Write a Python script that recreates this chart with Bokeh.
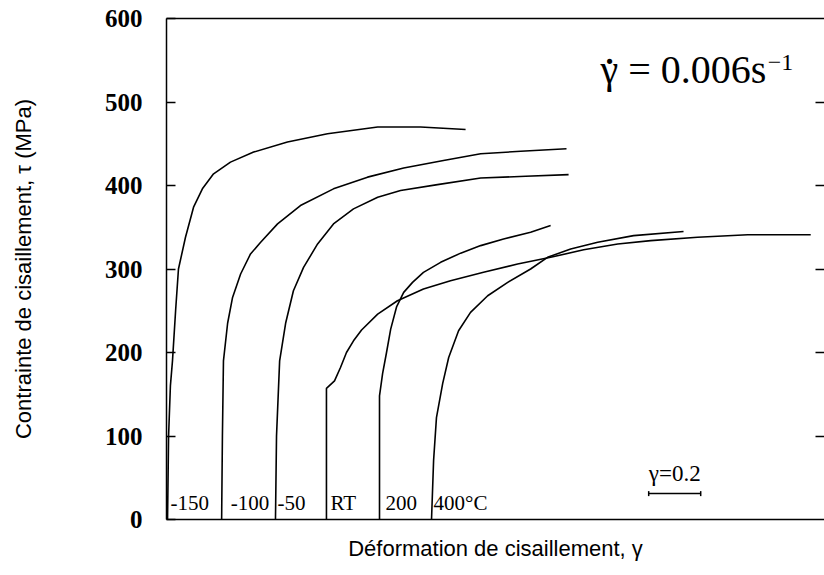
from bokeh.plotting import figure
from bokeh.models import LinearAxis, FixedTicker, Range1d, Label, ColumnDataSource
from bokeh.core.properties import value
from bokeh.embed import file_html
from bokeh.resources import INLINE

# ---------------- data (shear strain gamma, shear stress tau in MPa) ----------------
gamma_m150 = [0.004, 0.008, 0.015, 0.023, 0.035, 0.046, 0.073, 0.104, 0.138, 0.181, 0.246, 0.335, 0.465, 0.619, 0.812, 0.977, 1.150]
tau_m150 = [0, 100, 160, 190, 250, 300, 338, 374, 396, 414, 428, 440, 452, 462, 470, 470, 467]

gamma_m100 = [0.212, 0.215, 0.219, 0.235, 0.254, 0.285, 0.323, 0.362, 0.427, 0.515, 0.642, 0.773, 0.912, 1.065, 1.208, 1.362, 1.538]
tau_m100 = [0, 100, 190, 235, 266, 294, 318, 332, 354, 376, 396, 410, 421, 430, 438, 441, 444]

gamma_m50 = [0.419, 0.423, 0.435, 0.458, 0.488, 0.527, 0.581, 0.642, 0.719, 0.812, 0.900, 1.042, 1.208, 1.381, 1.546]
tau_m50 = [0, 100, 190, 235, 274, 302, 330, 354, 372, 386, 394, 401, 409, 411, 413]

gamma_rt = [0.615, 0.615, 0.646, 0.669, 0.692, 0.719, 0.750, 0.812, 0.888, 0.988, 1.092, 1.219, 1.350, 1.477, 1.604, 1.735, 1.862, 2.042, 2.235, 2.477]
tau_rt = [0, 157, 166, 182, 200, 214, 227, 246, 262, 276, 286, 296, 306, 314, 323, 330, 334, 338, 341, 341]

gamma_200 = [0.819, 0.819, 0.831, 0.846, 0.862, 0.885, 0.912, 0.946, 0.988, 1.054, 1.131, 1.208, 1.296, 1.400, 1.477]
tau_200 = [0, 148, 175, 200, 228, 255, 272, 284, 296, 308, 319, 328, 336, 344, 352]

gamma_400 = [1.019, 1.027, 1.038, 1.062, 1.085, 1.123, 1.169, 1.235, 1.312, 1.400, 1.465, 1.554, 1.658, 1.796, 1.988]
tau_400 = [0, 71, 122, 163, 194, 226, 248, 268, 284, 300, 314, 324, 332, 340, 345]

curve_labels = ["-150", "-100", "-50", "RT", "200", "400°C"]
y_ticks = [0, 100, 200, 300, 400, 500, 600]
scale_bar_gamma = 0.2
rate_text = "γ = 0.006s"
rate_exp = "−1"
x_title = "Déformation de cisaillement, γ"
y_title = "Contrainte de cisaillement, τ (MPa)"

# ---------------- figure ----------------
p = figure(width=824, height=567, x_range=Range1d(0, 2.53), y_range=Range1d(0, 600),
           output_backend="svg", toolbar_location=None,
           x_axis_location=None, y_axis_location=None,
           min_border_left=166, min_border_right=0, min_border_top=18, min_border_bottom=48)
p.outline_line_color = None
p.background_fill_color = "white"
p.border_fill_color = "white"
for g in p.grid:
    g.visible = False

serif = "Liberation Serif"
sans = "Liberation Sans"

left = LinearAxis(ticker=FixedTicker(ticks=y_ticks), axis_label=y_title)
left.major_tick_in = 9
left.major_tick_out = 0
left.minor_tick_line_color = None
left.axis_line_width = 1.5
left.major_tick_line_width = 1.5
left.major_label_text_font = serif
left.major_label_text_font_size = "25px"
left.major_label_text_font_style = "bold"
left.major_label_text_color = "black"
left.major_label_standoff = 24
left.axis_label_text_font = sans
left.axis_label_text_font_size = "22px"
left.axis_label_text_font_style = "normal"
left.axis_label_text_color = "black"
left.axis_label_standoff = 66
p.add_layout(left, "left")

right = LinearAxis(ticker=FixedTicker(ticks=y_ticks[1:-1]))
right.major_label_overrides = {t: "" for t in y_ticks}
right.major_label_text_font_size = "0px"
right.major_label_standoff = 0
right.major_tick_in = 9
right.major_tick_out = 0
right.minor_tick_line_color = None
right.major_tick_line_width = 1.5
right.axis_line_color = None
p.add_layout(right, "right")

bottom = LinearAxis(ticker=FixedTicker(ticks=[]), axis_label=x_title)
bottom.axis_line_width = 1.5
bottom.major_label_standoff = 0
bottom.major_tick_out = 0
bottom.minor_tick_line_color = None
bottom.axis_label_text_font = sans
bottom.axis_label_text_font_size = "22px"
bottom.axis_label_text_font_style = "normal"
bottom.axis_label_text_color = "black"
bottom.axis_label_standoff = 16
p.add_layout(bottom, "below")

top = LinearAxis(ticker=FixedTicker(ticks=[]))
top.axis_line_width = 1.5
top.major_label_standoff = 0
top.major_tick_out = 0
top.minor_tick_line_color = None
p.add_layout(top, "above")

# ---------------- curves ----------------
curves = [(gamma_m150, tau_m150), (gamma_m100, tau_m100), (gamma_m50, tau_m50),
          (gamma_rt, tau_rt), (gamma_200, tau_200), (gamma_400, tau_400)]
for gx, ty in curves:
    p.line(gx, ty, line_color="black", line_width=1.6)

# curve labels at the foot of each curve
label_src = ColumnDataSource(dict(
    x=[c[0][0] for c in curves],
    y=[20] * len(curves),
    text=curve_labels,
    dx=[3, 9, 2, 4, 6, 2],
))
p.text(x="x", y="y", text="text", x_offset="dx", source=label_src,
       text_font=value(serif), text_font_size="21px", text_color="black",
       text_baseline="middle", text_align="left")

# scale bar gamma = 0.2
bar_x0 = 1.854
bar_y = 31
p.segment(x0=[bar_x0], y0=[bar_y], x1=[bar_x0 + scale_bar_gamma], y1=[bar_y],
          line_color="black", line_width=1.5)
p.segment(x0=[bar_x0, bar_x0 + scale_bar_gamma], y0=[bar_y - 3, bar_y - 3],
          x1=[bar_x0, bar_x0 + scale_bar_gamma], y1=[bar_y + 3, bar_y + 3],
          line_color="black", line_width=1.5)
p.add_layout(Label(x=bar_x0 + scale_bar_gamma / 2, y=55, text="γ=0.2",
                   text_font=serif, text_font_size="23px", text_color="black",
                   text_align="center", text_baseline="middle"))

# strain rate annotation (gamma with a dot above)
p.add_layout(Label(x=1.669, y=539, text=rate_text, text_font=serif,
                   text_font_size="40px", text_color="black",
                   text_align="left", text_baseline="alphabetic"))
p.add_layout(Label(x=1.669, y=549, x_offset=9, text="·", text_font=serif,
                   text_font_size="44px", text_color="black",
                   text_align="center", text_baseline="middle"))
p.add_layout(Label(x=2.312, y=547, text=rate_exp, text_font=serif,
                   text_font_size="24px", text_color="black",
                   text_align="left", text_baseline="alphabetic"))

open("out.html", "w").write(file_html(p, INLINE))
